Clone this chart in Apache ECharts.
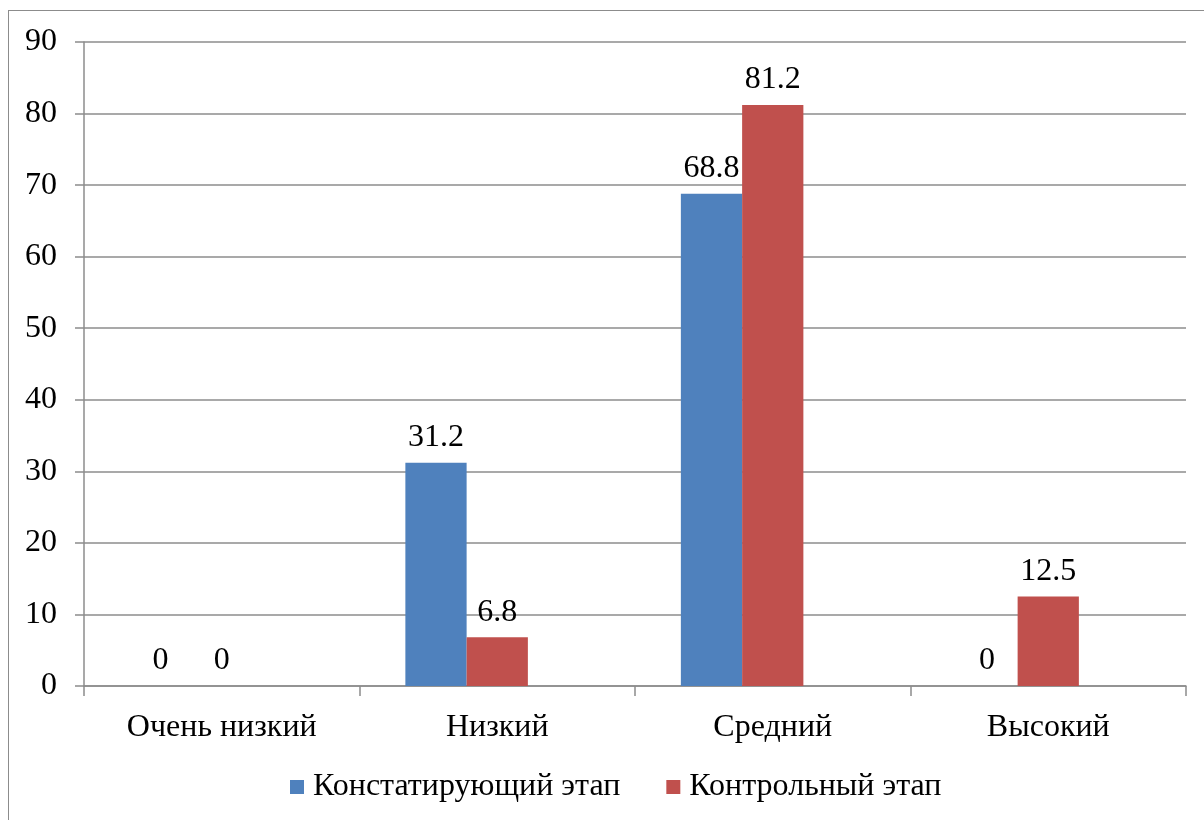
<!DOCTYPE html>
<html>
<head>
<meta charset="utf-8">
<script src="https://cdn.jsdelivr.net/npm/echarts@6/dist/echarts.min.js"></script>
<style>
  html, body { margin: 0; padding: 0; background: #fff; overflow: hidden; }
  #frame { position: absolute; left: 8px; top: 10px; width: 1300px; height: 900px; border: 1.5px solid #8c8c8c; box-sizing: border-box; }
  #chart { position: absolute; left: 0; top: 0; width: 1204px; height: 820px; }
</style>
</head>
<body>
<div id="frame"></div>
<div id="chart"></div>
<script>
const categories = ['Очень низкий', 'Низкий', 'Средний', 'Высокий'];
const seriesNames = ['Констатирующий этап', 'Контрольный этап'];
const stageInitial = [0, 31.2, 68.8, 0];
const stageControl = [0, 6.8, 81.2, 12.5];
const yTicks = { min: 0, max: 90, interval: 10 };

const FONT = '"Times New Roman", "Liberation Serif", serif';
const FS = 32;
const AXIS_GRAY = '#8c8c8c';

const chart = echarts.init(document.getElementById('chart'), null, { renderer: 'canvas' });

const labelStyle = {
  show: true,
  position: 'top',
  distance: 9,
  color: '#000',
  fontFamily: FONT,
  fontSize: FS
};

chart.setOption({
  animation: false,
  backgroundColor: 'transparent',
  grid: { left: 84, right: 18, top: 42, bottom: 134, containLabel: false },
  legend: {
    data: seriesNames,
    bottom: 12,
    left: 285,
    itemWidth: 14,
    itemHeight: 14,
    itemGap: 46,
    icon: 'rect',
    textStyle: { fontFamily: FONT, fontSize: FS, color: '#000', padding: [0, 0, 0, 4] }
  },
  xAxis: {
    type: 'category',
    data: categories,
    axisLine: { lineStyle: { color: AXIS_GRAY, width: 1.5 } },
    axisTick: { show: true, length: 10, alignWithLabel: false, lineStyle: { color: AXIS_GRAY, width: 1.5 } },
    axisLabel: { margin: 26, color: '#000', fontFamily: FONT, fontSize: FS },
    splitLine: { show: false }
  },
  yAxis: {
    type: 'value',
    min: yTicks.min,
    max: yTicks.max,
    interval: yTicks.interval,
    axisLine: { show: true, lineStyle: { color: AXIS_GRAY, width: 1.5 } },
    axisTick: { show: true, length: 9, lineStyle: { color: AXIS_GRAY, width: 1.5 } },
    axisLabel: { margin: 27, color: '#000', fontFamily: FONT, fontSize: FS },
    splitLine: { show: true, lineStyle: { color: AXIS_GRAY, width: 1.5 } }
  },
  series: [
    {
      name: seriesNames[0],
      type: 'bar',
      data: stageInitial,
      barGap: '0%',
      barCategoryGap: '33.3%',
      itemStyle: { color: '#4F81BD' },
      label: labelStyle
    },
    {
      name: seriesNames[1],
      type: 'bar',
      data: stageControl,
      itemStyle: { color: '#C0504D' },
      label: labelStyle
    },
    {
      // empty slot series reserving the third bar position in each category
      name: '',
      type: 'bar',
      data: [],
      silent: true
    }
  ]
});
</script>
</body>
</html>
